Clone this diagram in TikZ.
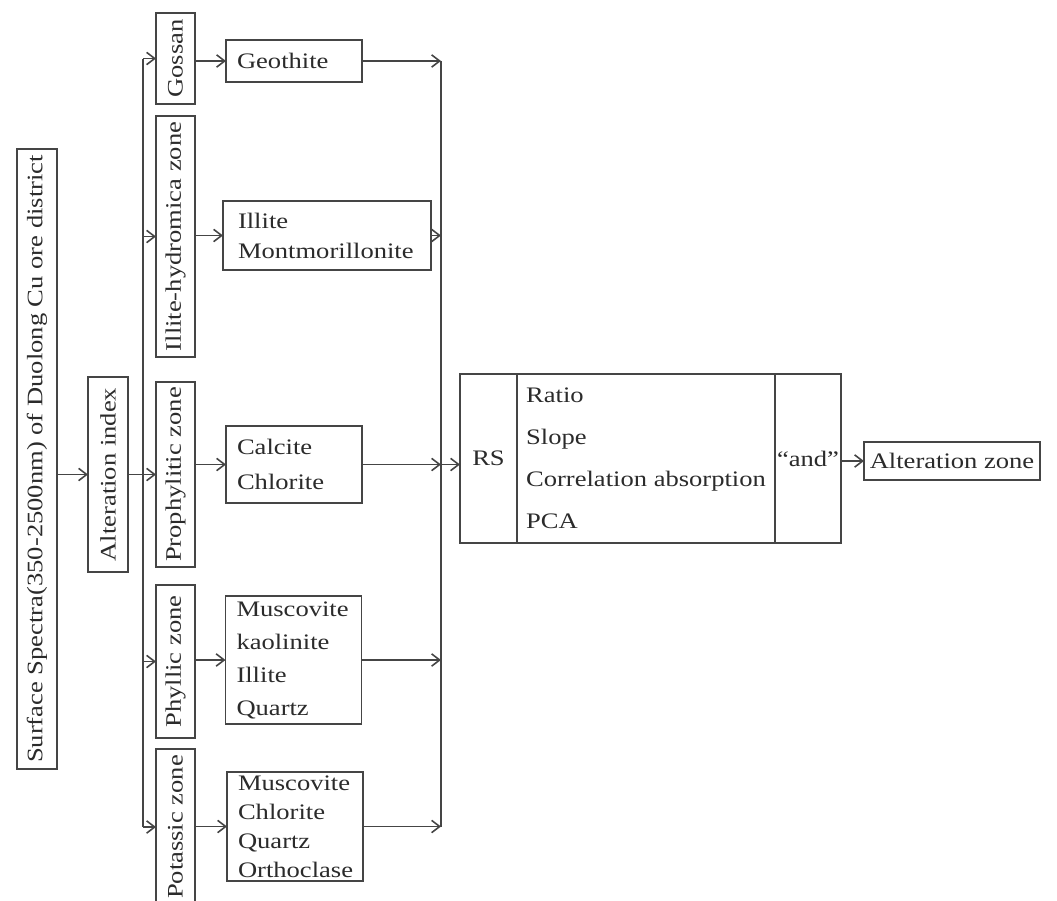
\documentclass[tikz,border=0pt]{standalone}
\usepackage{fontspec}
\setmainfont{Liberation Serif}[FakeStretch=1.2]
\usetikzlibrary{arrows.meta,positioning}
\definecolor{linegray}{HTML}{454545}
\definecolor{textgray}{HTML}{2B2B2B}
\newdimen\pxu \pxu=0.02cm
\tikzset{
  flow-box/.style={draw=linegray, line width=0.9pt, inner sep=0pt, outer sep=0pt,
    text=textgray, font=\fontsize{12.6pt}{15pt}\selectfont},
  flow-zone/.style={flow-box, minimum width=39\pxu},
  flow-mineral/.style={flow-box, align=left, inner xsep=11\pxu, text width=114\pxu},
  flow-arrow/.style={draw=linegray, line width=0.9pt, -{Straight Barb[length=4.6pt,width=7pt]}},
  flow-line/.style={draw=linegray, line width=0.9pt},
  linegap/.style={font=\fontsize{12.6pt}{#1}\selectfont}
}

\begin{document}
\begin{tikzpicture}[x=0.02cm, y=-0.02cm]
  \useasboundingbox (0,0) rectangle (1057,900);
  \clip (0,0) rectangle (1057,900);
  \fill[white] (0,0) rectangle (1057,900);
  % source and index
  \node[flow-box, minimum width=40\pxu, minimum height=620\pxu] (spectra) at (37,459)
    {\rotatebox{90}{Surface Spectra(350-2500nm) of Duolong Cu ore district}};
  \node[flow-box, minimum width=40\pxu, minimum height=195\pxu] (altindex) at (108,474.5)
    {\rotatebox{90}{Alteration index}};
  % zones
  \node[flow-zone, minimum height=91\pxu] (gossan) at (175.5,58.5) {\rotatebox{90}{Gossan}};
  \node[flow-zone, minimum height=241\pxu] (illitez) at (175.5,236.5) {\rotatebox{90}{Illite-hydromica zone}};
  \node[flow-zone, minimum height=185\pxu] (prophz) at (175.5,474.5) {\rotatebox{90}{Prophylitic zone}};
  \node[flow-zone, minimum height=153\pxu] (phyllz) at (175.5,661.5) {\rotatebox{90}{Phyllic zone}};
  \node[flow-zone, minimum height=156\pxu] (potasz) at (175.5,827) {\rotatebox{90}{Potassic zone}};
  % minerals
  \node[flow-mineral, minimum height=42\pxu] (geothite) at (294,61) {Geothite};
  \node[flow-mineral, inner xsep=15\pxu, text width=178\pxu, minimum height=69\pxu, linegap=17pt]
    (illmin) at (327,235.5) {Illite\\Montmorillonite};
  \node[flow-mineral, minimum height=77\pxu, linegap=20pt] (calcmin) at (294,464.5) {Calcite\\Chlorite};
  \node[flow-mineral, minimum height=128\pxu, linegap=18.8pt] (phylmin) at (293.5,660)
    {Muscovite\\kaolinite\\Illite\\Quartz};
  \node[flow-mineral, minimum height=109\pxu, linegap=16.5pt] (potmin) at (295,826.5)
    {Muscovite\\Chlorite\\Quartz\\Orthoclase};
  % remote sensing block
  \node[flow-box, minimum width=57\pxu, minimum height=169\pxu] (rs) at (488.5,458.5) {RS};
  \node[flow-box, minimum width=258\pxu, minimum height=169\pxu, align=left, linegap=24pt,
    right=0pt of rs] (methods) {Ratio\\Slope\\Correlation absorption\\PCA};
  \node[flow-box, minimum width=66\pxu, minimum height=169\pxu, right=0pt of methods] (andbox) {``and''};
  \node[flow-box, minimum width=176\pxu, minimum height=38\pxu] (altzone) at (952,461) {Alteration zone};
  % buses
  \coordinate (lbus) at (143,0);
  \coordinate (rbus) at (441,0);
  \draw[flow-arrow] (spectra.east |- altindex) -- (altindex.west);
  \draw[flow-arrow] (altindex.east) -- (prophz.west);
  \draw[flow-line] (lbus |- gossan) -- (lbus |- potasz);
  \foreach \z in {gossan,illitez,phyllz,potasz}
    \draw[flow-arrow] (lbus |- \z) -- (\z.west);
  \foreach \z/\m in {gossan/geothite,illitez/illmin,prophz/calcmin,phyllz/phylmin,potasz/potmin}
    \draw[flow-arrow] (\z.east |- \m) -- (\m.west);
  \foreach \m in {geothite,illmin,calcmin,phylmin,potmin}
    \draw[flow-arrow] (\m.east) -- (rbus |- \m);
  \draw[flow-line] (rbus |- geothite) -- (rbus |- potmin);
  \draw[flow-arrow] (rbus |- calcmin) -- (rs.west |- calcmin);
  \draw[flow-arrow] (andbox.east |- altzone) -- (altzone.west);
\end{tikzpicture}
\end{document}
